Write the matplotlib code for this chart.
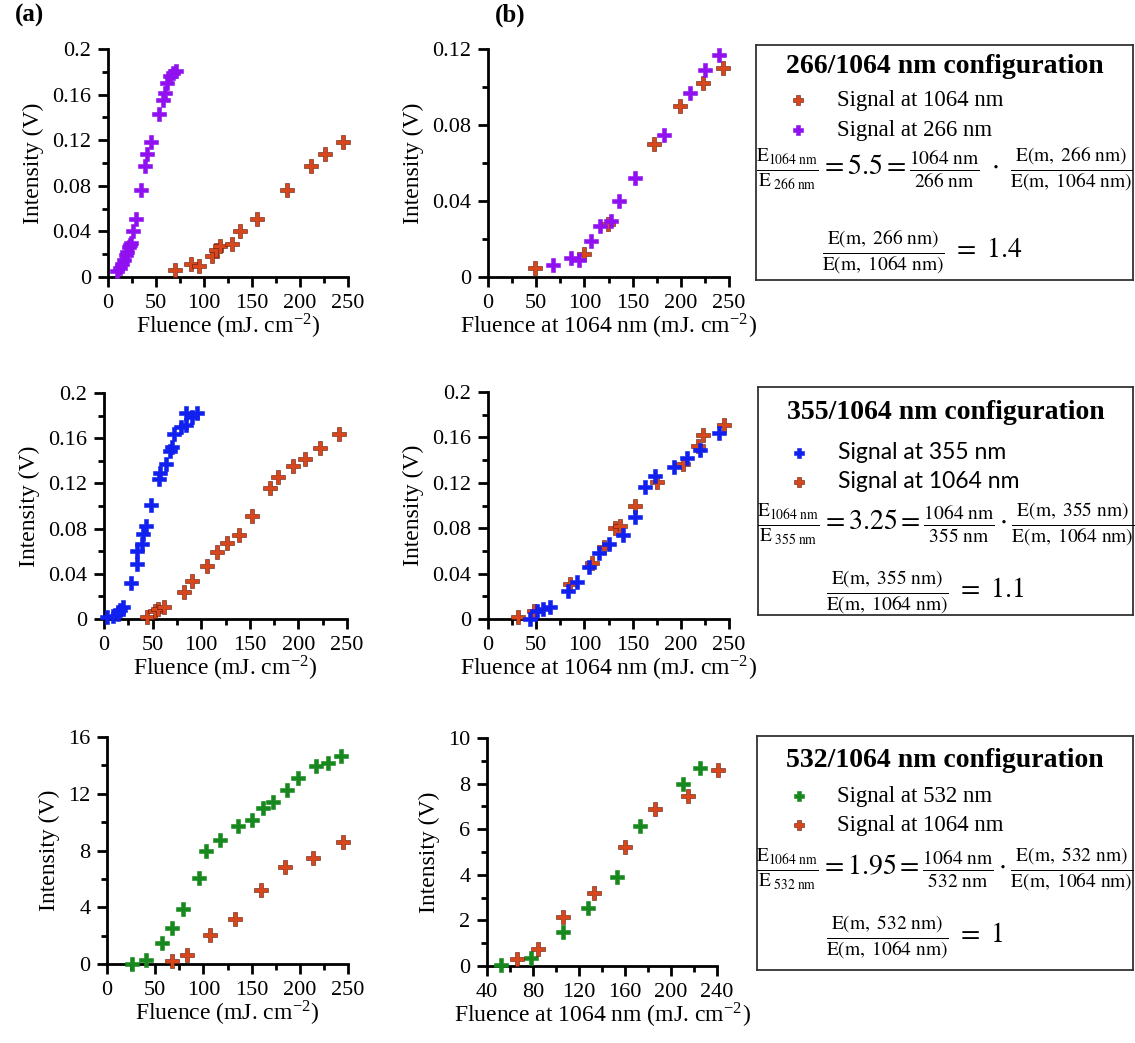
import matplotlib

matplotlib.use("Agg")
import matplotlib.pyplot as plt
from matplotlib.ticker import MultipleLocator

plt.rcParams["font.family"] = ["Liberation Serif", "DejaVu Serif"]
plt.rcParams["mathtext.fontset"] = "stix"

ORANGE = "#D8461C"
PURPLE = "#9010F0"
BLUE = "#1020EE"
GREEN = "#17881E"

# ---- 266/1064 nm configuration ----
a1_266_x = [9, 12, 15, 17, 19, 20, 22, 23, 24, 26, 29, 34, 39, 41, 45, 53, 57, 59, 61, 65, 68, 71]
a1_266_y = [0.005, 0.008, 0.011, 0.015, 0.019, 0.022, 0.026, 0.028, 0.030, 0.040, 0.051, 0.076,
            0.097, 0.108, 0.118, 0.143, 0.155, 0.161, 0.170, 0.176, 0.179, 0.181]
a1_1064_x = [70, 86, 95, 108, 113, 117, 129, 137, 155, 186, 211, 226, 245]
a1_1064_y = [0.006, 0.011, 0.010, 0.018, 0.024, 0.027, 0.029, 0.040, 0.051, 0.076, 0.097, 0.108, 0.118]

b1_1064_x = [49, 100, 124, 172, 199, 223, 244]
b1_1064_y = [0.005, 0.012, 0.028, 0.070, 0.090, 0.102, 0.110]
b1_266_x = [67, 86, 94, 107, 116, 128, 136, 153, 183, 210, 225, 240]
b1_266_y = [0.0065, 0.010, 0.009, 0.019, 0.027, 0.0295, 0.040, 0.052, 0.075, 0.097, 0.109, 0.117]

# ---- 355/1064 nm configuration ----
a2_355_x = [3, 9, 14, 16, 20, 28, 34, 34, 39, 40, 43, 48, 57, 58, 64, 68, 70, 72, 79, 84, 84, 91, 96]
a2_355_y = [0.002, 0.003, 0.004, 0.008, 0.011, 0.032, 0.049, 0.060, 0.066, 0.075, 0.082, 0.101,
            0.124, 0.129, 0.137, 0.149, 0.152, 0.164, 0.170, 0.172, 0.182, 0.179, 0.182]
a2_1064_x = [44, 52, 56, 62, 82, 91, 106, 116, 127, 139, 152, 171, 179, 194, 207, 222, 242]
a2_1064_y = [0.002, 0.007, 0.009, 0.011, 0.024, 0.034, 0.047, 0.059, 0.067, 0.074, 0.091, 0.116,
             0.126, 0.135, 0.142, 0.151, 0.164]

b2_355_x = [44, 51, 57, 64, 83, 92, 105, 115, 126, 140, 153, 163, 173, 193, 206, 220, 240]
b2_355_y = [0.0003, 0.007, 0.009, 0.011, 0.025, 0.033, 0.046, 0.058, 0.066, 0.074, 0.090, 0.116,
            0.126, 0.134, 0.142, 0.149, 0.164]
b2_1064_x = [31, 48, 85, 108, 120, 132, 137, 153, 175, 202, 218, 223, 245]
b2_1064_y = [0.002, 0.007, 0.031, 0.049, 0.063, 0.080, 0.082, 0.100, 0.121, 0.137, 0.152, 0.162, 0.171]

# ---- 532/1064 nm configuration ----
a3_532_x = [26, 40, 57, 67, 79, 95, 103, 117, 136, 150, 162, 172, 187, 198, 217, 229, 243]
a3_532_y = [0.0, 0.26, 1.48, 2.54, 3.9, 6.06, 7.94, 8.76, 9.7, 10.17, 11.0, 11.4, 12.29, 13.1,
            13.93, 14.17, 14.64]
a3_1064_x = [67, 83, 107, 133, 160, 185, 214, 245]
a3_1064_y = [0.19, 0.66, 2.07, 3.17, 5.24, 6.84, 7.47, 8.6]

b3_532_x = [52, 78, 106, 128, 153, 173, 210, 225]
b3_532_y = [0.04, 0.37, 1.5, 2.56, 3.92, 6.15, 7.99, 8.68]
b3_1064_x = [66, 84, 106, 133, 160, 186, 215, 241]
b3_1064_y = [0.29, 0.73, 2.14, 3.22, 5.24, 6.88, 7.44, 8.6]

FLUENCE = r"Fluence (mJ. cm$^{\mathregular{-2}}$)"
FLUENCE_1064 = r"Fluence at 1064 nm (mJ. cm$^{\mathregular{-2}}$)"

W, H = 1135, 1043
fig = plt.figure(figsize=(W / 100, H / 100), dpi=100)


def px_axes(left, top, right, bottom):
    return fig.add_axes([left / W, 1 - bottom / H, (right - left) / W, (bottom - top) / H])


def style_axes(ax, xlim, xmaj, xmin, ylim, ymaj, ymin, xlabel):
    ax.set_xlim(*xlim)
    ax.set_ylim(*ylim)
    ax.xaxis.set_major_locator(MultipleLocator(xmaj))
    ax.xaxis.set_minor_locator(MultipleLocator(xmin))
    ax.yaxis.set_major_locator(MultipleLocator(ymaj))
    ax.yaxis.set_minor_locator(MultipleLocator(ymin))
    for side in ("top", "right"):
        ax.spines[side].set_visible(False)
    for side in ("left", "bottom"):
        ax.spines[side].set_linewidth(2.0)
    ax.tick_params(which="major", direction="out", length=7, width=2, labelsize=16, pad=5)
    ax.tick_params(which="minor", direction="out", length=4, width=2)
    ax.yaxis.set_major_formatter(matplotlib.ticker.FuncFormatter(lambda v, p: f"{v:g}"))
    ax.set_ylabel("Intensity (V)", fontsize=17, labelpad=6)
    ax.set_xlabel(xlabel, fontsize=17, labelpad=-1)


def scatter(ax, x, y, color, label):
    return ax.scatter(x, y, marker="P", s=95, color=color, edgecolors="#5a1a10" if color == ORANGE else color,
                      linewidths=0.4, label=label, clip_on=False, zorder=3)


# row 1
ax = px_axes(108, 49, 348, 277)
scatter(ax, a1_266_x, a1_266_y, PURPLE, "Signal at 266 nm")
scatter(ax, a1_1064_x, a1_1064_y, ORANGE, "Signal at 1064 nm")
style_axes(ax, (0, 250), 50, 25, (0, 0.2), 0.04, 0.02, FLUENCE)

ax = px_axes(488, 49, 729, 277)
h1_1064 = scatter(ax, b1_1064_x, b1_1064_y, ORANGE, "Signal at 1064 nm")
h1_266 = scatter(ax, b1_266_x, b1_266_y, PURPLE, "Signal at 266 nm")
style_axes(ax, (0, 250), 50, 25, (0, 0.12), 0.04, 0.02, FLUENCE_1064)

# row 2
ax = px_axes(104, 393, 347, 619)
scatter(ax, a2_355_x, a2_355_y, BLUE, "Signal at 355 nm")
scatter(ax, a2_1064_x, a2_1064_y, ORANGE, "Signal at 1064 nm")
style_axes(ax, (0, 250), 50, 25, (0, 0.2), 0.04, 0.02, FLUENCE)

ax = px_axes(488, 392, 729, 619)
h2_1064 = scatter(ax, b2_1064_x, b2_1064_y, ORANGE, "Signal at 1064 nm")
h2_355 = scatter(ax, b2_355_x, b2_355_y, BLUE, "Signal at 355 nm")
style_axes(ax, (0, 250), 50, 25, (0, 0.2), 0.04, 0.02, FLUENCE_1064)

# row 3
ax = px_axes(107, 737, 348, 964)
scatter(ax, a3_532_x, a3_532_y, GREEN, "Signal at 532 nm")
scatter(ax, a3_1064_x, a3_1064_y, ORANGE, "Signal at 1064 nm")
style_axes(ax, (0, 250), 50, 25, (0, 16), 4, 2, FLUENCE)

ax = px_axes(487, 738, 717, 966)
h3_532 = scatter(ax, b3_532_x, b3_532_y, GREEN, "Signal at 532 nm")
h3_1064 = scatter(ax, b3_1064_x, b3_1064_y, ORANGE, "Signal at 1064 nm")
style_axes(ax, (40, 240), 40, 20, (0, 10), 2, 1, FLUENCE_1064)

fig.text(30 / W, 1 - 15 / H, "(a)", fontsize=18, fontweight="bold", ha="center", va="center")
fig.text(510 / W, 1 - 15 / H, "(b)", fontsize=18, fontweight="bold", ha="center", va="center")


def frac(num, den):
    return r"\frac{\mathrm{" + num + r"}}{\mathrm{" + den + r"}}"


def info_box(left, top, bottom, title, handles, labels, ratio_eq, result_eq, title_y, leg_y,
             eq_y, res_y, res_x, leg_font=None):
    bx = px_axes(left, top, 1133, bottom)
    bx.set_xticks([])
    bx.set_yticks([])
    for spine in bx.spines.values():
        spine.set_linewidth(1.3)
        spine.set_color("#333333")
    bx.text(0.5, title_y, title, fontsize=20, fontweight="bold", ha="center", va="center",
            transform=bx.transAxes)
    prop = {"size": 16.5}
    if leg_font:
        prop["family"] = leg_font
    bx.legend(handles, labels, loc="center left", bbox_to_anchor=(0.08, leg_y), frameon=False,
              prop=prop, handlelength=1.0, handletextpad=1.2, labelspacing=0.35,
              markerscale=0.7, borderpad=0, borderaxespad=0)
    bx.text(0.5, eq_y, ratio_eq, fontsize=20, ha="center", va="center", transform=bx.transAxes)
    bx.text(res_x, res_y, result_eq, fontsize=20, ha="center", va="center", transform=bx.transAxes)


E1064 = r"\mathrm{E}_{1064\ \mathrm{nm}}"

info_box(
    756, 45, 280, "266/1064 nm configuration",
    [h1_1064, h1_266], ["Signal at 1064 nm", "Signal at 266 nm"],
    r"$\frac{" + E1064 + r"}{\mathrm{E}_{\ 266\ \mathrm{nm}}} = 5.5 = "
    + frac(r"1064\ nm", r"266\ nm") + r"\ \cdot\ " + frac(r"E(m,\ 266\ nm)", r"E(m,\ 1064\ nm)") + "$",
    r"$" + frac(r"E(m,\ 266\ nm)", r"E(m,\ 1064\ nm)") + r"\ =\ 1.4$",
    0.91, 0.70, 0.47, 0.12, 0.44,
)

info_box(
    758, 387, 615, "355/1064 nm configuration",
    [h2_355, h2_1064], ["Signal at 355 nm", "Signal at 1064 nm"],
    r"$\frac{" + E1064 + r"}{\mathrm{E}_{\ 355\ \mathrm{nm}}} {=} 3.25 = "
    + frac(r"1064\ nm", r"355\ nm") + r"\cdot " + frac(r"E(m,\ 355\ nm)", r"E(m,\ 1064\ nm)") + "$",
    r"$" + frac(r"E(m,\ 355\ nm)", r"E(m,\ 1064\ nm)") + r"\ =\ 1.1$",
    0.89, 0.65, 0.40, 0.10, 0.445, leg_font="Lato",
)

info_box(
    757, 736, 970, "532/1064 nm configuration",
    [h3_532, h3_1064], ["Signal at 532 nm", "Signal at 1064 nm"],
    r"$\frac{" + E1064 + r"}{\mathrm{E}_{\ 532\ \mathrm{nm}}} {=} 1.95 {=} "
    + frac(r"1064\ nm", r"532\ nm") + r"\cdot " + frac(r"E(m,\ 532\ nm)", r"E(m,\ 1064\ nm)") + "$",
    r"$" + frac(r"E(m,\ 532\ nm)", r"E(m,\ 1064\ nm)") + r"\ =\ 1$",
    0.895, 0.68, 0.43, 0.14, 0.42,
)

fig.savefig("out.png", dpi=100)
